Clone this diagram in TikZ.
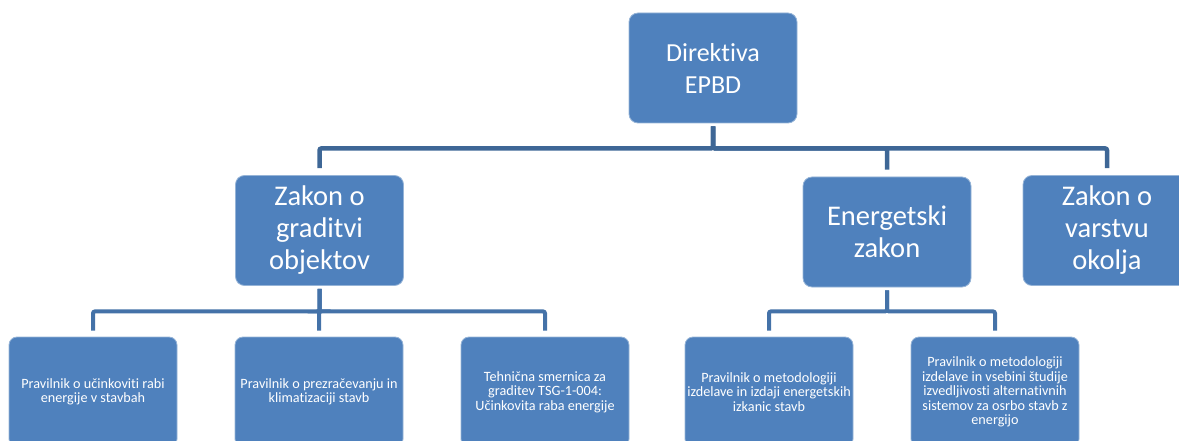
\documentclass[tikz,border=0pt]{standalone}
\usepackage{fontspec}
\setmainfont{Carlito}[RawFeature={-liga}]
\definecolor{boxblue}{RGB}{79,129,189}
\definecolor{boxedge}{RGB}{150,180,215}
\definecolor{linetop}{RGB}{62,103,150}
\definecolor{linelow}{RGB}{68,114,168}
\tikzset{
  box/.style={rectangle, rounded corners=9pt, fill=boxblue, draw=boxedge, line width=0.8pt,
    minimum width=168pt, minimum height=110pt, text=white, align=center, inner sep=2pt},
  bigbox/.style={box, font=\fontsize{26}{32}\selectfont},
  midbox/.style={box, font=\fontsize{28.5}{32}\selectfont},
  smallbox/.style={box, rounded corners=8pt, font=\fontsize{14.2}{14.4}\selectfont},
  conntop/.style={draw=linetop, line width=4.5pt, rounded corners=2pt, shorten <=3pt, shorten >=7pt},
  connlow/.style={draw=linelow, line width=4pt, rounded corners=2pt, shorten <=3pt, shorten >=6pt}
}
\begin{document}
\begin{tikzpicture}[x=1pt,y=-1pt]
\useasboundingbox (0,0) rectangle (1179,441);
\begin{scope}
\clip (0,0) rectangle (1179,441);
% nodes
\node[bigbox] (epbd) at (713,68) {Direktiva\\EPBD};
\node[midbox] (zg) at (319.5,230.5) {Zakon o\\graditvi\\objektov};
\node[midbox] (ez) at (887,232) {Energetski\\zakon};
\node[midbox] (zv) at (1107,230.5) {Zakon o\\varstvu\\okolja};
\node[smallbox] (b1) at (93,392) {Pravilnik o učinkoviti rabi\\energije v stavbah};
\node[smallbox] (b2) at (319,392) {Pravilnik o prezračevanju in\\klimatizaciji stavb};
\node[smallbox] (b3) at (545,392) {Tehnična smernica za\\graditev TSG-1-004:\\Učinkovita raba energije};
\node[smallbox] (b4) at (769,392) {Pravilnik o metodologiji\\izdelave in izdaji energetskih\\izkanic stavb};
\node[smallbox] (b5) at (995,392) {Pravilnik o metodologiji\\izdelave in vsebini študije\\izvedljivosti alternativnih\\sistemov za osrbo stavb z\\energijo};
% connectors
\draw[conntop] (epbd.south) -- ++(0,25) -| (zg.north);
\draw[conntop] (epbd.south) -- ++(0,25) -| (ez.north);
\draw[conntop] (epbd.south) -- ++(0,25) -| (zv.north);
\draw[connlow] (zg.south) -- ++(0,25.5) -| (b1.north);
\draw[connlow] (zg.south) -- ++(0,25.5) -| (b2.north);
\draw[connlow] (zg.south) -- ++(0,25.5) -| (b3.north);
\draw[connlow] (ez.south) -- ++(0,24) -| (b4.north);
\draw[connlow] (ez.south) -- ++(0,24) -| (b5.north);
\end{scope}
\end{tikzpicture}
\end{document}
